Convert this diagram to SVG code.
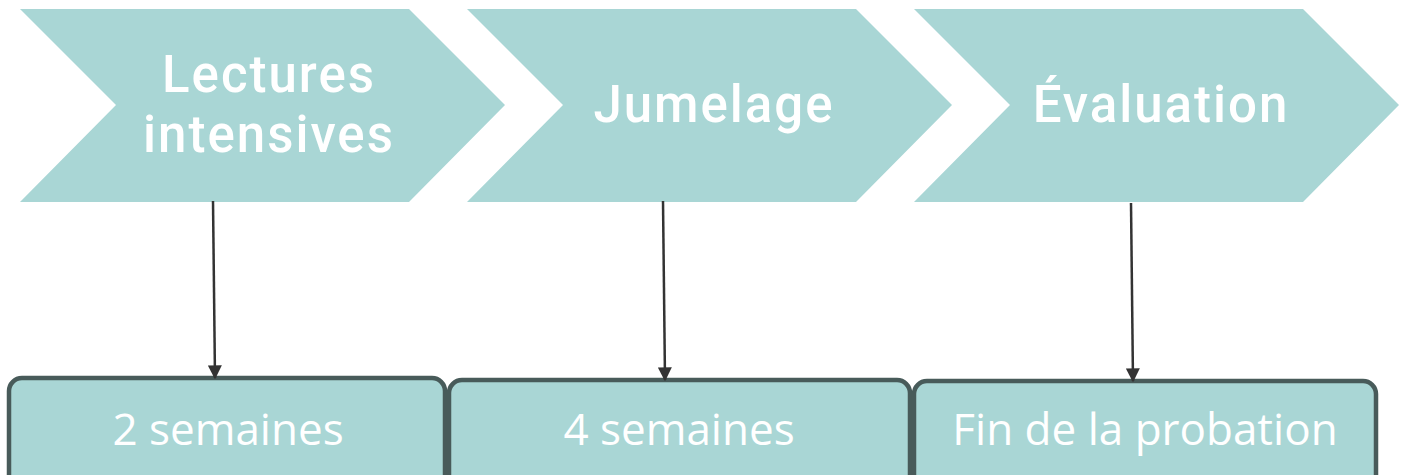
<svg xmlns="http://www.w3.org/2000/svg" width="1405" height="475" viewBox="0 0 1405 475">
<style>
.chev{fill:#A9D6D5;}
.box{fill:#A9D6D5;stroke:#485B5A;stroke-width:4.5;}
.t{fill:#fff;text-anchor:middle;}
.big{font-family:Roboto,"Liberation Sans",sans-serif;font-size:51px;font-weight:500;letter-spacing:2px;}
.small{font-family:"Open Sans","Liberation Sans",sans-serif;font-size:44px;font-weight:400;}
.conn{stroke:#333;stroke-width:2.5;fill:none;marker-end:url(#ah);}
</style>
<defs>
<marker id="ah" viewBox="0 0 10 10" refX="9" refY="5" markerWidth="14" markerHeight="14" markerUnits="userSpaceOnUse" orient="auto"><path d="M0,0 L10,5 L0,10 z" fill="#333"/></marker>
</defs>
<rect width="1405" height="475" fill="#fff"/>
<g id="step1">
<polygon class="chev" points="20,9 409,9 505,105 409,202 20,202 116,105"/>
<text class="t big" x="269" y="92">Lectures</text>
<text class="t big" x="269" y="152">intensives</text>
</g>
<g id="step2">
<polygon class="chev" points="467,9 856,9 952,105 856,202 467,202 563,105"/>
<text class="t big" x="714" y="122">Jumelage</text>
</g>
<g id="step3">
<polygon class="chev" points="914,9 1303,9 1399,105 1303,202 914,202 1010,105"/>
<text class="t big" x="1161" y="122">Évaluation</text>
</g>
<g id="dur1">
<rect class="box" x="9" y="378" width="436" height="110" rx="13"/>
<text class="t small" x="228" y="445">2 semaines</text>
</g>
<g id="dur2">
<rect class="box" x="449" y="380" width="461" height="110" rx="13"/>
<text class="t small" x="679" y="445">4 semaines</text>
</g>
<g id="dur3">
<rect class="box" x="914" y="381" width="462" height="110" rx="13"/>
<text class="t small" x="1145" y="445">Fin de la probation</text>
</g>
<g id="connectors">
<path class="conn" d="M213,201 L215,378"/>
<path class="conn" d="M663,201 L665,380"/>
<path class="conn" d="M1131,203 L1133,381"/>
</g>
</svg>
